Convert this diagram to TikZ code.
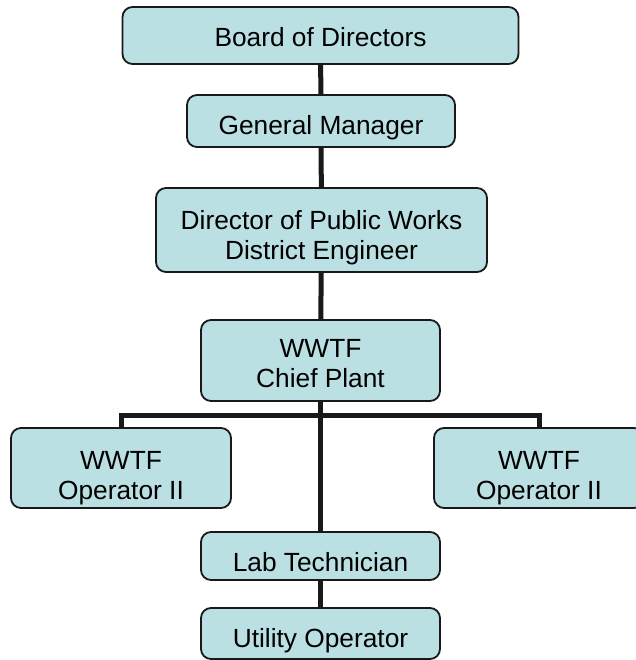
\documentclass[tikz,border=0pt]{standalone}
\usepackage{fontspec}
\setmainfont{Liberation Sans}
\definecolor{postfill}{RGB}{187,224,227}

\begin{document}
\begin{tikzpicture}[x=0.5bp,y=-0.5bp,
    post/.style={draw=black!90,line width=0.9bp,fill=postfill,rounded corners=5bp,
      align=center,inner sep=0pt,text height=19.75bp,font=\fontsize{13.2}{15}\selectfont},
    link/.style={line width=2.5bp,draw=black!90}]
        \useasboundingbox[fill=white] (0,0) rectangle (636,660);

        \node[post,minimum width=198bp,text depth=8.75bp] (board) at (320.5,35.5) {Board of Directors};
        \node[post,minimum width=134bp,text depth=6.25bp] (gm) at (321,121) {General Manager};
        \node[post,minimum width=165.5bp,text height=35.75bp,text depth=6.25bp] (dpw) at (321.5,230) {Director of Public Works\\District Engineer};
        \node[post,minimum width=119.5bp,text height=33.75bp,text depth=6.75bp] (chief) at (320.5,360.5) {WWTF\\Chief Plant};
        \node[post,minimum width=110bp,text height=35.75bp,text depth=4.25bp] (opleft) at (121,468) {WWTF\\Operator II};
        \node[post,minimum width=105bp,text height=35.75bp,text depth=4.25bp] (opright) at (539,468) {WWTF\\Operator II};
        \node[post,minimum width=119.5bp,text depth=4.25bp] (lab) at (320.5,556) {Lab Technician};
        \node[post,minimum width=119.5bp,text depth=5.75bp] (util) at (320.5,633.5) {Utility Operator};

        \coordinate (split) at (320.5,415);

        \draw[link] (board) -- (gm);
        \draw[link] (gm) -- (dpw);
        \draw[link] (dpw) -- (chief);
        \draw[link] (chief) -- (lab);
        \draw[link] (lab) -- (util);
        \foreach \op in {opleft,opright} {
          \draw[link] (split) -| (\op.north);
        }
      \end{tikzpicture}
\end{document}
